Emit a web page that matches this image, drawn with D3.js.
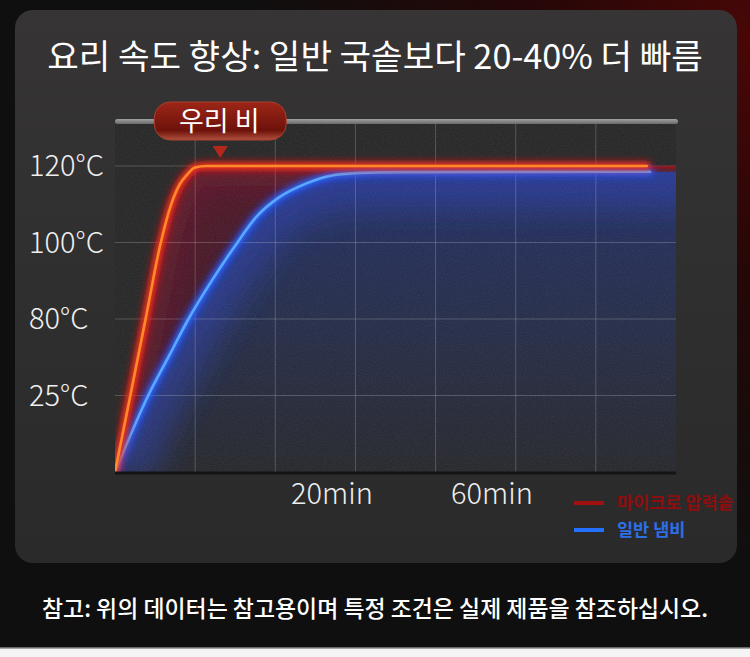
<!DOCTYPE html>
<html>
<head>
<meta charset="utf-8">
<script src="https://cdn.jsdelivr.net/npm/d3@7"></script>
<style>
  html, body { margin: 0; padding: 0; background: #101010; }
  svg { display: block; }
</style>
</head>
<body>
<script>
// --- data ---
var titleText = "요리 속도 향상: 일반 국솥보다 20-40% 더 빠름";
var noteText = "참고: 위의 데이터는 참고용이며 특정 조건은 실제 제품을 참조하십시오.";
var calloutText = "우리 비";
var calloutMin = 9.7;

var timeTicks = [20, 60];
var timeLabels = ["20min", "60min"];
var tempTicks = [25, 80, 100, 120];
var tempLabels = ["25°C", "80°C", "100°C", "120°C"];
var seriesNames = ["마이크로 압력솥", "일반 냄비"];

// micro pressure cooker (red)
var pressureMin  = [0, 1.46, 2.82, 4.15, 5.22, 5.99, 6.64, 7.37, 8.4, 98.7];
var pressureTemp = [0, 26.8, 80, 99.1, 110.3, 115.3, 117.7, 119.6, 120, 120];
// ordinary pot (blue)
var potMin  = [0, 3.13, 4.93, 6.77, 8.85, 11.06, 13.09, 15.12, 17.6, 20.25, 27, 37, 99.5];
var potTemp = [0, 26.1, 52.7, 80, 89.7, 99.1, 106.9, 111.8, 115.4, 117.6, 118.2, 118.4, 118.5];

var W = 750, H = 657;
var plot = { left: 115, right: 676, top: 122, bottom: 472 };
var topTickY = 166;

var svg = d3.select("body").append("svg")
  .attr("width", W).attr("height", H);

var defs = svg.append("defs");

var addStops = function(grad, stops) {
  stops.forEach(function(s) {
    grad.append("stop").attr("offset", s[0]).attr("stop-color", s[1]);
  });
};

var bg = defs.append("radialGradient").attr("id", "bgGlow")
  .attr("gradientUnits", "userSpaceOnUse")
  .attr("cx", 760).attr("cy", 40).attr("r", 520);
addStops(bg, [["0", "#4a0707"], ["0.45", "#250707"], ["1", "#0f0f0f"]]);

var panelGrad = defs.append("linearGradient").attr("id", "panelGrad")
  .attr("x1", 0).attr("y1", 0).attr("x2", 0).attr("y2", 1);
addStops(panelGrad, [["0", "#363434"], ["1", "#2a2a2a"]]);

var barGrad = defs.append("linearGradient").attr("id", "barGrad")
  .attr("x1", 0).attr("y1", 0).attr("x2", 0).attr("y2", 1);
addStops(barGrad, [["0", "#a0a0a0"], ["1", "#6a6a6a"]]);

var redArea = defs.append("linearGradient").attr("id", "redArea")
  .attr("gradientUnits", "userSpaceOnUse")
  .attr("x1", 0).attr("y1", plot.top + 40).attr("x2", 0).attr("y2", plot.bottom);
addStops(redArea, [["0", "#4a1424"], ["1", "#381524"]]);

var blueArea = defs.append("linearGradient").attr("id", "blueArea")
  .attr("gradientUnits", "userSpaceOnUse")
  .attr("x1", 0).attr("y1", plot.top + 50).attr("x2", 0).attr("y2", plot.bottom);
addStops(blueArea, [["0", "#1f2b62"], ["0.4", "#212a4c"], ["1", "#232429"]]);

var pillGrad = defs.append("linearGradient").attr("id", "pillGrad")
  .attr("x1", 0).attr("y1", 0).attr("x2", 0).attr("y2", 1);
addStops(pillGrad, [["0", "#9c2618"], ["0.75", "#6e120a"], ["1", "#b0503e"]]);

var makeBlur = function(id, sd) {
  defs.append("filter").attr("id", id)
    .attr("filterUnits", "userSpaceOnUse")
    .attr("x", 0).attr("y", 0).attr("width", W).attr("height", H)
    .append("feGaussianBlur").attr("stdDeviation", sd);
};
makeBlur("glow", 3.5);
makeBlur("soft", 2);
makeBlur("haze", 16);

var noise = defs.append("filter").attr("id", "noise")
  .attr("filterUnits", "userSpaceOnUse")
  .attr("x", 0).attr("y", 0).attr("width", W).attr("height", H);
noise.append("feTurbulence").attr("type", "fractalNoise")
  .attr("baseFrequency", 0.9).attr("numOctaves", 2).attr("seed", 3);
noise.append("feColorMatrix").attr("type", "matrix")
  .attr("values", "0 0 0 0 0.5  0 0 0 0 0.5  0 0 0 0 0.5  0 0 0 0.3 0");
noise.append("feComposite").attr("operator", "in").attr("in2", "SourceGraphic");

defs.append("clipPath").attr("id", "plotClip")
  .append("rect")
  .attr("x", plot.left).attr("y", plot.top)
  .attr("width", plot.right - plot.left).attr("height", plot.bottom - plot.top);

// --- background and panel ---
svg.append("rect").attr("width", W).attr("height", H).attr("fill", "url(#bgGlow)");
svg.append("rect").attr("x", 0).attr("y", 648).attr("width", W).attr("height", 9).attr("fill", "#f4f4f4");
svg.append("line").attr("x1", 0).attr("x2", W).attr("y1", 648).attr("y2", 648)
  .attr("stroke", "#8a8a8a").attr("stroke-width", 1.5);

svg.append("rect")
  .attr("x", 15).attr("y", 10).attr("width", 722).attr("height", 553)
  .attr("rx", 18).attr("fill", "url(#panelGrad)");

// --- scales ---
var x = d3.scaleLinear()
  .domain([0].concat(timeTicks))
  .range([plot.left, 332, 492]);

var tempDomain = [0].concat(tempTicks);
var yStep = (plot.bottom - topTickY) / (tempDomain.length - 1);
var y = d3.scaleLinear()
  .domain(tempDomain)
  .range(tempDomain.map(function(d, i) { return plot.bottom - i * yStep; }));

var gridCols = d3.scaleLinear().domain([0, 7]).range([plot.left, plot.right]);

// --- plot background ---
svg.append("rect")
  .attr("x", plot.left).attr("y", plot.top)
  .attr("width", plot.right - plot.left).attr("height", plot.bottom - plot.top)
  .attr("fill", "#232323");

var toPoints = function(mins, temps) {
  return mins.map(function(m, i) { return { m: m, t: temps[i] }; });
};
var pressure = toPoints(pressureMin, pressureTemp);
var pot = toPoints(potMin, potTemp);

var extend = function(pts) {
  var last = pts[pts.length - 1];
  return pts.concat([{ m: x.invert(plot.right + 30), t: last.t }]);
};

var area = d3.area()
  .x(function(d) { return x(d.m); })
  .y0(plot.bottom)
  .y1(function(d) { return y(d.t); })
  .curve(d3.curveMonotoneX);

var line = d3.line()
  .x(function(d) { return x(d.m); })
  .y(function(d) { return y(d.t); })
  .curve(d3.curveMonotoneX);

defs.append("clipPath").attr("id", "redClip")
  .append("path").attr("d", area(extend(pressure)));
defs.append("clipPath").attr("id", "blueClip")
  .append("path").attr("d", area(extend(pot)));

var chart = svg.append("g").attr("clip-path", "url(#plotClip)");

// red fill between the curves, with a haze along the red line
chart.append("path").datum(extend(pressure))
  .attr("d", area).attr("fill", "url(#redArea)");
chart.append("g").attr("clip-path", "url(#redClip)")
  .append("path").datum(extend(pressure)).attr("d", line)
  .attr("fill", "none").attr("stroke", "#8a1430")
  .attr("stroke-width", 40).attr("stroke-opacity", 0.4)
  .attr("filter", "url(#haze)");

// blue fill below the blue curve, with a haze along the blue line
chart.append("path").datum(extend(pot))
  .attr("d", area).attr("fill", "url(#blueArea)");
chart.append("g").attr("clip-path", "url(#blueClip)")
  .append("path").datum(extend(pot)).attr("d", line)
  .attr("fill", "none").attr("stroke", "#2740b8")
  .attr("stroke-width", 70).attr("stroke-opacity", 0.55)
  .attr("filter", "url(#haze)");

// grain
chart.append("rect")
  .attr("x", plot.left).attr("y", plot.top)
  .attr("width", plot.right - plot.left).attr("height", plot.bottom - plot.top)
  .attr("fill", "#000").attr("filter", "url(#noise)").attr("opacity", 0.45);

// grid
chart.selectAll(".vgrid")
  .data(d3.range(1, 7))
  .enter().append("line")
  .attr("class", "vgrid")
  .attr("x1", function(d) { return gridCols(d); })
  .attr("x2", function(d) { return gridCols(d); })
  .attr("y1", plot.top).attr("y2", plot.bottom)
  .attr("stroke", "rgba(255,255,255,0.2)").attr("stroke-width", 1);

chart.selectAll(".hgrid")
  .data(tempTicks)
  .enter().append("line")
  .attr("class", "hgrid")
  .attr("x1", plot.left).attr("x2", plot.right)
  .attr("y1", function(d) { return y(d); })
  .attr("y2", function(d) { return y(d); })
  .attr("stroke", "rgba(255,255,255,0.2)").attr("stroke-width", 1);

// dim tail of the red line to the plot edge
var redLast = pressure[pressure.length - 1];
chart.append("line")
  .attr("x1", x(redLast.m)).attr("x2", plot.right)
  .attr("y1", y(redLast.t) + 1).attr("y2", y(redLast.t) + 1)
  .attr("stroke", "rgba(150,20,25,0.7)").attr("stroke-width", 3);

// glowing lines
var drawGlow = function(pts, glowColor, midColor, coreColor) {
  chart.append("path").datum(pts).attr("d", line)
    .attr("fill", "none").attr("stroke", glowColor)
    .attr("stroke-width", 11).attr("stroke-opacity", 0.55)
    .attr("stroke-linecap", "round").attr("filter", "url(#glow)");
  chart.append("path").datum(pts).attr("d", line)
    .attr("fill", "none").attr("stroke", midColor)
    .attr("stroke-width", 5).attr("stroke-opacity", 0.85)
    .attr("stroke-linecap", "round").attr("filter", "url(#soft)");
  chart.append("path").datum(pts).attr("d", line)
    .attr("fill", "none").attr("stroke", coreColor)
    .attr("stroke-width", 2.6).attr("stroke-linecap", "round");
};
drawGlow(pot, "#1d4dff", "#2f72ff", "#5aa9ff");
drawGlow(pressure, "#ff1a1a", "#ff3a14", "#ff8a2a");

// bottom edge shadow and top bar
svg.append("line")
  .attr("x1", plot.left).attr("x2", plot.right)
  .attr("y1", plot.bottom + 1).attr("y2", plot.bottom + 1)
  .attr("stroke", "#141414").attr("stroke-width", 3);
svg.append("rect")
  .attr("x", plot.left).attr("y", plot.top - 3)
  .attr("width", plot.right - plot.left + 2).attr("height", 5)
  .attr("rx", 2.5).attr("fill", "url(#barGrad)");

// --- axes labels ---
var font = "'Noto Sans CJK KR', 'Noto Sans', sans-serif";

svg.selectAll(".ylab")
  .data(tempTicks)
  .enter().append("text")
  .attr("class", "ylab")
  .attr("x", 29)
  .attr("y", function(d) { return y(d); })
  .attr("dy", "0.36em")
  .attr("font-family", font).attr("font-size", 29).attr("font-weight", 300)
  .attr("fill", "#efefef")
  .text(function(d, i) { return tempLabels[i]; });

svg.selectAll(".xlab")
  .data(timeTicks)
  .enter().append("text")
  .attr("class", "xlab")
  .attr("x", function(d) { return x(d); })
  .attr("y", 504)
  .attr("text-anchor", "middle")
  .attr("font-family", font).attr("font-size", 29).attr("font-weight", 300)
  .attr("fill", "#efefef")
  .text(function(d, i) { return timeLabels[i]; });

// --- callout ---
var cx = x(calloutMin);
var callout = svg.append("g");
callout.append("rect")
  .attr("x", cx - 66).attr("y", 102).attr("width", 132).attr("height", 38)
  .attr("rx", 16).attr("fill", "url(#pillGrad)")
  .attr("stroke", "#a8402e").attr("stroke-width", 1);
callout.append("text")
  .attr("x", cx - 1).attr("y", 131)
  .attr("text-anchor", "middle")
  .attr("font-family", font).attr("font-size", 27).attr("font-weight", 400)
  .attr("fill", "#ffffff")
  .text(calloutText);
callout.append("path")
  .attr("d", d3.line()([[cx - 7.5, 146], [cx + 7.5, 146], [cx, 158]]) + "Z")
  .attr("fill", "#b3281b");

// --- legend ---
var legendColors = [
  { line: "#a0100f", text: "#8d0e0e" },
  { line: "#2470ff", text: "#2d6fe6" }
];
var legend = svg.selectAll(".legend")
  .data(seriesNames)
  .enter().append("g")
  .attr("class", "legend")
  .attr("transform", function(d, i) { return "translate(574," + (503 + i * 27) + ")"; });
legend.append("line")
  .attr("x1", 0).attr("x2", 30).attr("y1", 0).attr("y2", 0)
  .attr("stroke", function(d, i) { return legendColors[i].line; })
  .attr("stroke-width", 4);
legend.append("text")
  .attr("x", 43).attr("dy", "0.36em")
  .attr("font-family", font).attr("font-size", 17.5).attr("font-weight", 700)
  .attr("fill", function(d, i) { return legendColors[i].text; })
  .text(function(d) { return d; });

// --- title and note ---
var fitWidth = function(sel, target) {
  var len = sel.node().getComputedTextLength();
  var size = parseFloat(sel.attr("font-size"));
  sel.attr("font-size", (size * target / len).toFixed(2));
};

var title = svg.append("text")
  .attr("x", W / 2).attr("y", 69)
  .attr("text-anchor", "middle")
  .attr("font-family", font).attr("font-size", 28).attr("font-weight", 400)
  .attr("fill", "#ffffff")
  .text(titleText);
fitWidth(title, 656);

var note = svg.append("text")
  .attr("x", W / 2).attr("y", 617)
  .attr("text-anchor", "middle")
  .attr("font-family", font).attr("font-size", 19).attr("font-weight", 500)
  .attr("fill", "#ffffff")
  .text(noteText);
fitWidth(note, 666);
</script>
</body>
</html>
